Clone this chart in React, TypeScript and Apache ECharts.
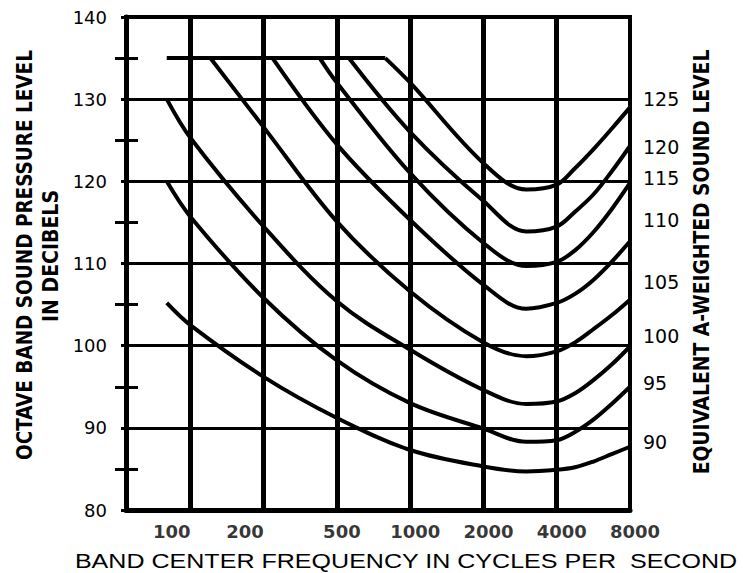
import React, { useEffect, useRef } from "react";
import * as echarts from "echarts";

// Octave-band grid lines (Hz) and frequency tick labels
const gridFreqs = [125, 250, 500, 1000, 2000, 4000];
const xTickLabels = [100, 200, 500, 1000, 2000, 4000, 8000];

// 135 dB ceiling line
const capLine = [[100, 135], [790, 135]];

// Curves: equivalent A-weighted sound level (dBA) -> [frequency Hz, octave band SPL dB]
const curve125 = [[790, 135], [1000, 132.0], [2000, 122.2], [3000, 119.0], [4000, 119.6], [4757, 121.6], [5657, 123.9], [6727, 126.4], [8000, 129.0]];
const curve120 = [[560, 135], [1000, 126.0], [2000, 117.6], [3000, 113.9], [4000, 114.5], [4757, 116.3], [5657, 118.4], [6727, 121.2], [8000, 124.3]];
const curve115 = [[425, 135], [500, 132.0], [1000, 121.0], [2000, 112.5], [3000, 109.7], [4000, 110.2], [4757, 111.6], [5657, 113.8], [6727, 116.6], [8000, 119.8]];
const curve110 = [[272, 135], [500, 124.5], [1000, 115.3], [2000, 107.4], [3000, 104.5], [4000, 105.2], [4757, 106.3], [5657, 108.0], [6727, 110.2], [8000, 112.7]];
const curve105 = [[151, 135], [250, 126.6], [500, 115.1], [1000, 106.6], [2000, 100.4], [3000, 98.7], [4000, 99.3], [4757, 100.4], [5657, 102.0], [6727, 103.7], [8000, 105.6]];
const curve100 = [[100, 130], [125, 125.3], [250, 114.5], [500, 105.4], [1000, 99.5], [2000, 94.6], [3000, 92.9], [4000, 93.2], [4757, 94.2], [5657, 95.8], [6727, 97.7], [8000, 99.9]];
const curve95 = [[100, 120], [125, 115.7], [250, 105.8], [500, 98.2], [1000, 93.0], [2000, 89.9], [3000, 88.3], [4000, 88.5], [4757, 89.5], [5657, 91.0], [6727, 92.9], [8000, 95.0]];
const curve90 = [[100, 105.2], [125, 102.5], [250, 96.2], [500, 91.2], [1000, 87.3], [2000, 85.3], [3000, 84.7], [4000, 84.9], [4757, 85.2], [5657, 85.9], [6727, 86.8], [8000, 87.7]];

const curveNames = ["125", "120", "115", "110", "105", "100", "95", "90"];
const curveData = [curve125, curve120, curve115, curve110, curve105, curve100, curve95, curve90];
const labelDy = [-8, 1, -5, -21, -18, -10, -4, -5];

function fitScale(text: string, font: string, target: number) {
  const ctx = document.createElement("canvas").getContext("2d");
  if (!ctx) return 1;
  ctx.font = font;
  const w = ctx.measureText(text).width;
  return w > 0 ? target / w : 1;
}

export default function App() {
  const ref = useRef<HTMLDivElement>(null);

  useEffect(() => {
    if (!ref.current) return;
    const chart = echarts.init(ref.current, undefined, { renderer: "svg" });

    const titleFont = 'bold 22px "DejaVu Sans Condensed", "DejaVu Sans"';
    const bottomFont = '21px "Liberation Sans", Arial';
    const t1 = "OCTAVE BAND SOUND PRESSURE LEVEL";
    const t2 = "IN DECIBELS";
    const t3 = "EQUIVALENT A-WEIGHTED SOUND LEVEL";
    const t4 = "BAND CENTER FREQUENCY IN CYCLES PER  SECOND";

    const black = "#000";

    const curveSeries = curveData.map((d, i) => ({
      type: "line",
      name: curveNames[i],
      data: d,
      smooth: 0.35,
      symbol: "none",
      clip: false,
      lineStyle: { color: black, width: 4 },
      endLabel: {
        show: true,
        formatter: (p: any) => p.seriesName,
        distance: 13,
        offset: [0, labelDy[i]],
        color: black,
        fontSize: 19,
        fontFamily: '"DejaVu Sans", sans-serif',
      },
      z: 5,
    }));

    const option: any = {
      animation: false,
      backgroundColor: "#fff",
      grid: {
        left: 126,
        right: 113,
        top: 17,
        bottom: 63,
        show: true,
        borderColor: black,
        borderWidth: 4,
      },
      xAxis: {
        type: "log",
        logBase: 2,
        min: 68,
        max: 8000,
        axisLine: { show: true, lineStyle: { color: black, width: 5 } },
        axisTick: { show: false },
        axisLabel: { show: false },
        splitLine: { show: false },
        minorTick: { show: false },
      },
      yAxis: [
        {
          type: "value",
          min: 80,
          max: 140,
          interval: 10,
          axisLine: { show: true, lineStyle: { color: black, width: 5 } },
          axisTick: { show: true, length: 5, lineStyle: { color: black, width: 3 } },
          minorTick: { show: true, splitNumber: 2, length: 11, lineStyle: { color: black, width: 3 } },
          axisLabel: {
            margin: 19,
            color: black,
            fontSize: 18,
            fontFamily: '"DejaVu Sans", sans-serif',
          },
          splitLine: { show: true, lineStyle: { color: black, width: 3 } },
        },
        {
          type: "value",
          min: 80,
          max: 140,
          interval: 10,
          position: "left",
          axisLine: { show: false },
          axisTick: { show: false, inside: true },
          minorTick: { show: true, splitNumber: 2, length: 12, lineStyle: { color: black, width: 3 } },
          axisLabel: { show: false },
          splitLine: { show: false },
        },
      ],
      series: [
        {
          type: "line",
          name: "cap",
          data: capLine,
          symbol: "none",
          clip: false,
          lineStyle: { color: black, width: 4 },
          markLine: {
            silent: true,
            symbol: ["none", "none"],
            label: { show: false },
            lineStyle: { color: black, width: 5, type: "solid" },
            data: gridFreqs.map((f) => ({ xAxis: f })),
          },
          z: 5,
        },
        ...curveSeries,
        {
          type: "scatter",
          name: "freqLabels",
          data: xTickLabels.map((f) => [f, 80]),
          symbolSize: 1,
          clip: false,
          itemStyle: { color: "rgba(0,0,0,0)" },
          label: {
            show: true,
            position: "bottom",
            distance: 12,
            offset: [5, 0],
            formatter: (p: any) => String(p.value[0]),
            color: black,
            fontSize: 18,
            fontWeight: "bold",
            fontFamily: '"DejaVu Sans", sans-serif',
          },
        },
      ],
      graphic: [
        {
          type: "text",
          x: 24,
          y: 255,
          rotation: Math.PI / 2,
          scaleX: fitScale(t1, titleFont, 410),
          style: { text: t1, font: titleFont, fill: black, align: "center", verticalAlign: "middle" },
        },
        {
          type: "text",
          x: 50,
          y: 256,
          rotation: Math.PI / 2,
          scaleX: fitScale(t2, titleFont, 132),
          style: { text: t2, font: titleFont, fill: black, align: "center", verticalAlign: "middle" },
        },
        {
          type: "text",
          x: 701,
          y: 262,
          rotation: Math.PI / 2,
          scaleX: fitScale(t3, titleFont, 425),
          style: { text: t3, font: titleFont, fill: black, align: "center", verticalAlign: "middle" },
        },
        {
          type: "text",
          x: 406,
          y: 561,
          scaleX: fitScale(t4, bottomFont, 663),
          style: { text: t4, font: bottomFont, fill: black, align: "center", verticalAlign: "middle" },
        },
      ],
    };

    chart.setOption(option);
    return () => chart.dispose();
  }, []);

  return (
    <div
      ref={ref}
      style={{ position: "fixed", left: 0, top: 0, width: 743, height: 573, background: "#fff" }}
    />
  );
}
